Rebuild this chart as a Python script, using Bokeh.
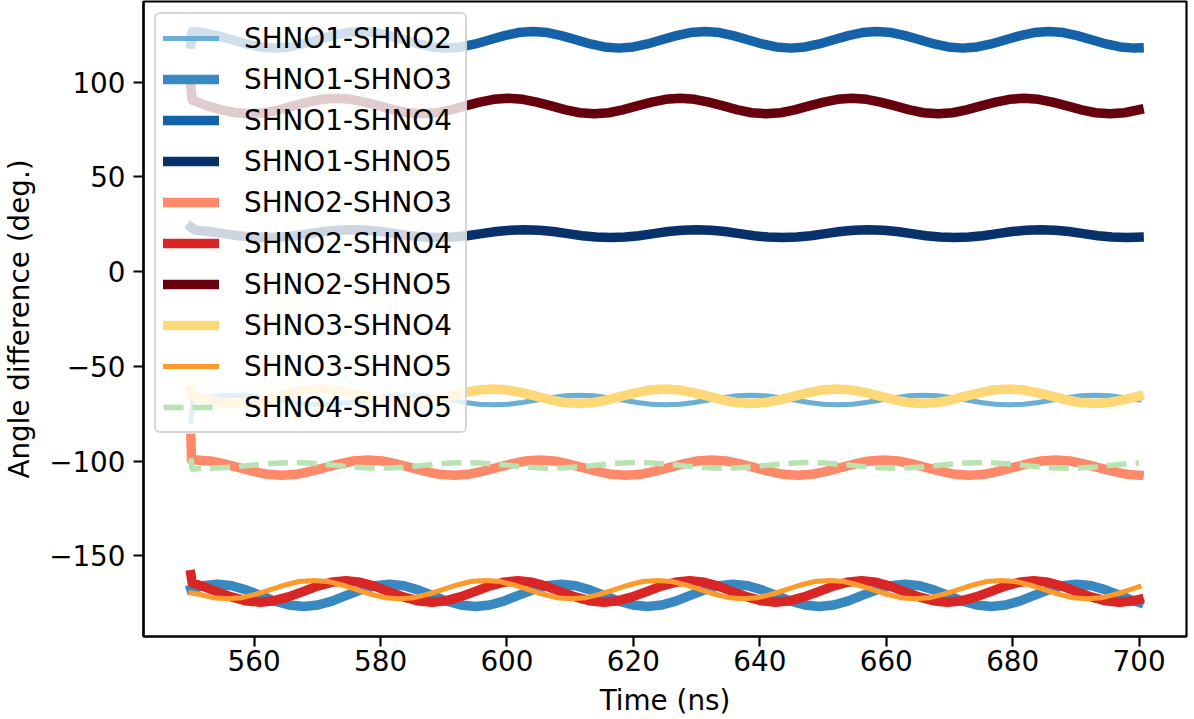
from bokeh.plotting import figure
from bokeh.models import Range1d, FixedTicker, Legend, LegendItem
from bokeh.embed import file_html
from bokeh.resources import INLINE

# ---------------- data ----------------
pair_names = ["SHNO1-SHNO2", "SHNO1-SHNO3", "SHNO1-SHNO4", "SHNO1-SHNO5",
              "SHNO2-SHNO3", "SHNO2-SHNO4", "SHNO2-SHNO5", "SHNO3-SHNO4",
              "SHNO3-SHNO5", "SHNO4-SHNO5"]

x_ticks = [560, 580, 600, 620, 640, 660, 680, 700]
y_ticks = [-150, -100, -50, 0, 50, 100]
y_tick_labels = ["\u2212150", "\u2212100", "\u221250", "0", "50", "100"]

time_12 = [550.0, 550.3, 552.6, 554.8,
    557.1, 559.4, 561.6, 563.9, 566.2, 568.4, 570.7, 573.0, 575.2, 577.5, 579.8, 582.0,
    584.3, 586.6, 588.8, 591.1, 593.4, 595.6, 597.9, 600.2, 602.4, 604.7, 607.0, 609.2,
    611.5, 613.8, 616.0, 618.3, 620.6, 622.8, 625.1, 627.4, 629.6, 631.9, 634.2, 636.4,
    638.7, 641.0, 643.2, 645.5, 647.8, 650.0, 652.3, 654.6, 656.8, 659.1, 661.4, 663.6,
    665.9, 668.2, 670.4, 672.7, 675.0, 677.2, 679.5, 681.8, 684.0, 686.3, 688.6, 690.8,
    693.1, 695.4, 697.6, 700.0]
angle_12 = [-79.0, -67.8, -66.6, -65.6,
    -65.3, -65.6, -66.6, -67.8, -69.1, -70.0, -70.3, -70.0, -69.1, -67.8, -66.6, -65.6,
    -65.3, -65.6, -66.6, -67.8, -69.1, -70.0, -70.3, -70.0, -69.1, -67.8, -66.6, -65.6,
    -65.3, -65.6, -66.6, -67.8, -69.1, -70.0, -70.3, -70.0, -69.1, -67.8, -66.6, -65.6,
    -65.3, -65.6, -66.6, -67.8, -69.1, -70.0, -70.3, -70.0, -69.1, -67.8, -66.6, -65.6,
    -65.3, -65.6, -66.6, -67.8, -69.1, -70.0, -70.3, -70.0, -69.1, -67.8, -66.6, -65.6,
    -65.3, -65.6, -66.6, -67.8]

time_13 = [550.0, 551.9,
    554.2, 556.5, 558.7, 561.0, 563.3, 565.5, 567.8, 570.1, 572.3, 574.6, 576.9, 579.1,
    581.4, 583.7, 585.9, 588.2, 590.5, 592.7, 595.0, 597.3, 599.5, 601.8, 604.1, 606.3,
    608.6, 610.9, 613.1, 615.4, 617.7, 619.9, 622.2, 624.5, 626.7, 629.0, 631.3, 633.5,
    635.8, 638.1, 640.3, 642.6, 644.9, 647.1, 649.4, 651.7, 653.9, 656.2, 658.5, 660.7,
    663.0, 665.3, 667.5, 669.8, 672.1, 674.3, 676.6, 678.9, 681.1, 683.4, 685.7, 687.9,
    690.2, 692.5, 694.7, 697.0, 699.3, 700.0]
angle_13 = [-167.7, -165.8,
    -165.0, -165.8, -168.0, -170.9, -173.9, -176.0, -176.8, -176.0, -173.9, -170.9, -168.0, -165.8,
    -165.0, -165.8, -168.0, -170.9, -173.9, -176.0, -176.8, -176.0, -173.9, -170.9, -168.0, -165.8,
    -165.0, -165.8, -168.0, -170.9, -173.9, -176.0, -176.8, -176.0, -173.9, -170.9, -168.0, -165.8,
    -165.0, -165.8, -168.0, -170.9, -173.9, -176.0, -176.8, -176.0, -173.9, -170.9, -168.0, -165.8,
    -165.0, -165.8, -168.0, -170.9, -173.9, -176.0, -176.8, -176.0, -173.9, -170.9, -168.0, -165.8,
    -165.0, -165.8, -168.0, -170.9, -173.9, -174.7]

time_14 = [550.0, 550.2,
    552.0, 554.2, 556.5, 558.8, 561.0, 563.3, 565.6, 567.8, 570.1, 572.4, 574.6,
    576.9, 579.2, 581.4, 583.7, 586.0, 588.2, 590.5, 592.8, 595.0, 597.3, 599.6, 601.8,
    604.1, 606.4, 608.6, 610.9, 613.2, 615.4, 617.7, 620.0, 622.2, 624.5, 626.8, 629.0,
    631.3, 633.6, 635.8, 638.1, 640.4, 642.6, 644.9, 647.2, 649.4, 651.7, 654.0, 656.2,
    658.5, 660.8, 663.0, 665.3, 667.6, 669.8, 672.1, 674.4, 676.6, 678.9, 681.2, 683.4,
    685.7, 688.0, 690.2, 692.5, 694.8, 697.0, 699.3, 700.0]
angle_14 = [120.0, 126.7,
    126.1, 124.5, 122.3, 120.1, 118.5, 117.9, 118.5, 120.1, 122.3, 124.5, 126.1,
    126.7, 126.1, 124.5, 122.3, 120.1, 118.5, 117.9, 118.5, 120.1, 122.3, 124.5, 126.1,
    126.7, 126.1, 124.5, 122.3, 120.1, 118.5, 117.9, 118.5, 120.1, 122.3, 124.5, 126.1,
    126.7, 126.1, 124.5, 122.3, 120.1, 118.5, 117.9, 118.5, 120.1, 122.3, 124.5, 126.1,
    126.7, 126.1, 124.5, 122.3, 120.1, 118.5, 117.9, 118.5, 120.1, 122.3, 124.5, 126.1,
    126.7, 126.1, 124.5, 122.3, 120.1, 118.5, 117.9, 118.0]

time_15 = [550.0,
    550.7, 552.9, 555.2, 557.5, 559.7, 562.0, 564.3, 566.5, 568.8, 571.1, 573.3,
    575.6, 577.9, 580.1, 582.4, 584.7, 586.9, 589.2, 591.5, 593.7, 596.0, 598.3, 600.5,
    602.8, 605.1, 607.3, 609.6, 611.9, 614.1, 616.4, 618.7, 620.9, 623.2, 625.5, 627.7,
    630.0, 632.3, 634.5, 636.8, 639.1, 641.3, 643.6, 645.9, 648.1, 650.4, 652.7, 654.9,
    657.2, 659.5, 661.7, 664.0, 666.3, 668.5, 670.8, 673.1, 675.3, 677.6, 679.9, 682.1,
    684.4, 686.7, 688.9, 691.2, 693.5, 695.7, 698.0, 700.0]
angle_15 = [23.5,
    21.8, 21.1, 20.0, 18.9, 18.2, 17.9, 18.2, 18.9, 20.0, 21.1, 21.8,
    22.1, 21.8, 21.1, 20.0, 18.9, 18.2, 17.9, 18.2, 18.9, 20.0, 21.1, 21.8,
    22.1, 21.8, 21.1, 20.0, 18.9, 18.2, 17.9, 18.2, 18.9, 20.0, 21.1, 21.8,
    22.1, 21.8, 21.1, 20.0, 18.9, 18.2, 17.9, 18.2, 18.9, 20.0, 21.1, 21.8,
    22.1, 21.8, 21.1, 20.0, 18.9, 18.2, 17.9, 18.2, 18.9, 20.0, 21.1, 21.8,
    22.1, 21.8, 21.1, 20.0, 18.9, 18.2, 17.9, 18.1]

time_23 = [550.0, 550.1,
    550.8, 553.1, 555.3, 557.6, 559.9, 562.1, 564.4, 566.7, 568.9, 571.2, 573.5, 575.7,
    578.0, 580.3, 582.5, 584.8, 587.1, 589.3, 591.6, 593.9, 596.1, 598.4, 600.7, 602.9,
    605.2, 607.5, 609.7, 612.0, 614.3, 616.5, 618.8, 621.1, 623.3, 625.6, 627.9, 630.1,
    632.4, 634.7, 636.9, 639.2, 641.5, 643.7, 646.0, 648.3, 650.5, 652.8, 655.1, 657.3,
    659.6, 661.9, 664.1, 666.4, 668.7, 670.9, 673.2, 675.5, 677.7, 680.0, 682.3, 684.5,
    686.8, 689.1, 691.3, 693.6, 695.9, 698.1, 700.0]
angle_23 = [-88.0, -99.4,
    -99.5, -100.0, -101.5, -103.5, -105.5, -107.0, -107.5, -107.0, -105.5, -103.5, -101.5, -100.0,
    -99.5, -100.0, -101.5, -103.5, -105.5, -107.0, -107.5, -107.0, -105.5, -103.5, -101.5, -100.0,
    -99.5, -100.0, -101.5, -103.5, -105.5, -107.0, -107.5, -107.0, -105.5, -103.5, -101.5, -100.0,
    -99.5, -100.0, -101.5, -103.5, -105.5, -107.0, -107.5, -107.0, -105.5, -103.5, -101.5, -100.0,
    -99.5, -100.0, -101.5, -103.5, -105.5, -107.0, -107.5, -107.0, -105.5, -103.5, -101.5, -100.0,
    -99.5, -100.0, -101.5, -103.5, -105.5, -107.0, -107.5]

time_24 = [550.0, 550.2,
    551.8, 554.1, 556.4, 558.6, 560.9, 563.2, 565.4, 567.7, 570.0, 572.2,
    574.5, 576.8, 579.0, 581.3, 583.6, 585.8, 588.1, 590.4, 592.6, 594.9, 597.2, 599.4,
    601.7, 604.0, 606.2, 608.5, 610.8, 613.0, 615.3, 617.6, 619.8, 622.1, 624.4, 626.6,
    628.9, 631.2, 633.4, 635.7, 638.0, 640.2, 642.5, 644.8, 647.0, 649.3, 651.6, 653.8,
    656.1, 658.4, 660.6, 662.9, 665.2, 667.4, 669.7, 672.0, 674.2, 676.5, 678.8, 681.0,
    683.3, 685.6, 687.8, 690.1, 692.4, 694.6, 696.9, 699.2, 700.0]
angle_24 = [-160.0, -164.4,
    -166.0, -168.9, -171.7, -173.7, -174.5, -173.7, -171.7, -168.9, -166.0, -164.0,
    -163.2, -164.0, -166.0, -168.9, -171.7, -173.7, -174.5, -173.7, -171.7, -168.9, -166.0, -164.0,
    -163.2, -164.0, -166.0, -168.9, -171.7, -173.7, -174.5, -173.7, -171.7, -168.9, -166.0, -164.0,
    -163.2, -164.0, -166.0, -168.9, -171.7, -173.7, -174.5, -173.7, -171.7, -168.9, -166.0, -164.0,
    -163.2, -164.0, -166.0, -168.9, -171.7, -173.7, -174.5, -173.7, -171.7, -168.9, -166.0, -164.0,
    -163.2, -164.0, -166.0, -168.9, -171.7, -173.7, -174.5, -173.7, -173.1]

time_25 = [550.0, 550.2,
    552.6, 554.9, 557.1, 559.4, 561.7, 563.9, 566.2, 568.5, 570.7,
    573.0, 575.3, 577.5, 579.8, 582.1, 584.3, 586.6, 588.9, 591.1, 593.4, 595.7, 597.9,
    600.2, 602.5, 604.7, 607.0, 609.3, 611.5, 613.8, 616.1, 618.3, 620.6, 622.9, 625.1,
    627.4, 629.7, 631.9, 634.2, 636.5, 638.7, 641.0, 643.3, 645.5, 647.8, 650.1, 652.3,
    654.6, 656.9, 659.1, 661.4, 663.7, 665.9, 668.2, 670.5, 672.7, 675.0, 677.3, 679.5,
    681.8, 684.1, 686.3, 688.6, 690.9, 693.1, 695.4, 697.7, 700.0]
angle_25 = [97.5, 90.5,
    87.4, 85.3, 83.8, 83.3, 83.8, 85.3, 87.4, 89.4, 90.9,
    91.4, 90.9, 89.4, 87.4, 85.3, 83.8, 83.3, 83.8, 85.3, 87.4, 89.4, 90.9,
    91.4, 90.9, 89.4, 87.4, 85.3, 83.8, 83.3, 83.8, 85.3, 87.4, 89.4, 90.9,
    91.4, 90.9, 89.4, 87.4, 85.3, 83.8, 83.3, 83.8, 85.3, 87.4, 89.4, 90.9,
    91.4, 90.9, 89.4, 87.4, 85.3, 83.8, 83.3, 83.8, 85.3, 87.4, 89.4, 90.9,
    91.4, 90.9, 89.4, 87.4, 85.3, 83.8, 83.3, 83.8, 85.4]

time_34 = [550.0,
    550.2, 552.5, 554.7, 557.0, 559.3, 561.5, 563.8, 566.1, 568.3,
    570.6, 572.9, 575.1, 577.4, 579.7, 581.9, 584.2, 586.5, 588.7, 591.0, 593.3, 595.5,
    597.8, 600.1, 602.3, 604.6, 606.9, 609.1, 611.4, 613.7, 615.9, 618.2, 620.5, 622.7,
    625.0, 627.3, 629.5, 631.8, 634.1, 636.3, 638.6, 640.9, 643.1, 645.4, 647.7, 649.9,
    652.2, 654.5, 656.7, 659.0, 661.3, 663.5, 665.8, 668.1, 670.3, 672.6, 674.9, 677.1,
    679.4, 681.7, 683.9, 686.2, 688.5, 690.7, 693.0, 695.3, 697.5, 700.0]
angle_34 = [-62.5,
    -65.8, -67.7, -69.1, -69.6, -69.1, -67.7, -65.8, -63.9, -62.5,
    -62.0, -62.5, -63.9, -65.8, -67.7, -69.1, -69.6, -69.1, -67.7, -65.8, -63.9, -62.5,
    -62.0, -62.5, -63.9, -65.8, -67.7, -69.1, -69.6, -69.1, -67.7, -65.8, -63.9, -62.5,
    -62.0, -62.5, -63.9, -65.8, -67.7, -69.1, -69.6, -69.1, -67.7, -65.8, -63.9, -62.5,
    -62.0, -62.5, -63.9, -65.8, -67.7, -69.1, -69.6, -69.1, -67.7, -65.8, -63.9, -62.5,
    -62.0, -62.5, -63.9, -65.8, -67.7, -69.1, -69.6, -69.1, -67.7, -65.7]

time_35 = [550.0,
    551.3, 553.5, 555.8, 558.1, 560.3, 562.6, 564.9, 567.1,
    569.4, 571.7, 573.9, 576.2, 578.5, 580.7, 583.0, 585.3, 587.5, 589.8, 592.1, 594.3,
    596.6, 598.9, 601.1, 603.4, 605.7, 607.9, 610.2, 612.5, 614.7, 617.0, 619.3, 621.5,
    623.8, 626.1, 628.3, 630.6, 632.9, 635.1, 637.4, 639.7, 641.9, 644.2, 646.5, 648.7,
    651.0, 653.3, 655.5, 657.8, 660.1, 662.3, 664.6, 666.9, 669.1, 671.4, 673.7, 675.9,
    678.2, 680.5, 682.7, 685.0, 687.3, 689.5, 691.8, 694.1, 696.3, 698.6, 700.0]
angle_35 = [-169.6,
    -170.3, -172.1, -172.7, -172.1, -170.3, -167.9, -165.4, -163.6,
    -163.0, -163.6, -165.4, -167.9, -170.3, -172.1, -172.7, -172.1, -170.3, -167.9, -165.4, -163.6,
    -163.0, -163.6, -165.4, -167.9, -170.3, -172.1, -172.7, -172.1, -170.3, -167.9, -165.4, -163.6,
    -163.0, -163.6, -165.4, -167.9, -170.3, -172.1, -172.7, -172.1, -170.3, -167.9, -165.4, -163.6,
    -163.0, -163.6, -165.4, -167.9, -170.3, -172.1, -172.7, -172.1, -170.3, -167.9, -165.4, -163.6,
    -163.0, -163.6, -165.4, -167.9, -170.3, -172.1, -172.7, -172.1, -170.3, -167.9, -166.3]

time_45 = [550.0, 550.2,
    552.6, 554.9, 557.1, 559.4, 561.7, 563.9,
    566.2, 568.5, 570.7, 573.0, 575.3, 577.5, 579.8, 582.1, 584.3, 586.6, 588.9, 591.1,
    593.4, 595.7, 597.9, 600.2, 602.5, 604.7, 607.0, 609.3, 611.5, 613.8, 616.1, 618.3,
    620.6, 622.9, 625.1, 627.4, 629.7, 631.9, 634.2, 636.5, 638.7, 641.0, 643.3, 645.5,
    647.8, 650.1, 652.3, 654.6, 656.9, 659.1, 661.4, 663.7, 665.9, 668.2, 670.5, 672.7,
    675.0, 677.3, 679.5, 681.8, 684.1, 686.3, 688.6, 690.9, 693.1, 695.4, 697.7, 700.0]
angle_45 = [-98.5, -104.3,
    -103.8, -103.6, -103.1, -102.3, -101.6, -101.0,
    -100.8, -101.0, -101.6, -102.3, -103.1, -103.6, -103.8, -103.6, -103.1, -102.3, -101.6, -101.0,
    -100.8, -101.0, -101.6, -102.3, -103.1, -103.6, -103.8, -103.6, -103.1, -102.3, -101.6, -101.0,
    -100.8, -101.0, -101.6, -102.3, -103.1, -103.6, -103.8, -103.6, -103.1, -102.3, -101.6, -101.0,
    -100.8, -101.0, -101.6, -102.3, -103.1, -103.6, -103.8, -103.6, -103.1, -102.3, -101.6, -101.0,
    -100.8, -101.0, -101.6, -102.3, -103.1, -103.6, -103.8, -103.6, -103.1, -102.3, -101.6, -101.0]

times = [time_12, time_13, time_14, time_15, time_23, time_24, time_25, time_34, time_35, time_45]
angles = [angle_12, angle_13, angle_14, angle_15, angle_23, angle_24, angle_25, angle_34, angle_35, angle_45]

# ---------------- styles ----------------
colors = ["#6baed6", "#3888c1", "#1562a9", "#08306b", "#fc8a6a",
          "#d92624", "#67000d", "#fed877", "#fd9a2c", "#b8e3b2"]
widths = [5, 9.5, 9.5, 9.5, 9.5, 9.5, 9.5, 9.5, 5, 5.5]
dashes = ["solid"] * 9 + ["20 9"]

FONT = "DejaVu Sans"
FS = "27.8px"

p = figure(width=1194, height=719,
           x_range=Range1d(542.5, 707.5), y_range=Range1d(-192.6, 142.5),
           output_backend="svg", toolbar_location=None,
           min_border_left=140, min_border_right=8,
           min_border_top=1, min_border_bottom=83)
p.background_fill_color = "white"
p.border_fill_color = "white"
p.outline_line_color = "black"
p.outline_line_width = 2.2
p.outline_line_alpha = 1.0
p.xgrid.visible = False
p.ygrid.visible = False

p.xaxis.ticker = FixedTicker(ticks=x_ticks)
p.yaxis.ticker = FixedTicker(ticks=y_ticks)
p.yaxis.major_label_overrides = {t: s for t, s in zip(y_ticks, y_tick_labels)}

for ax in (p.xaxis[0], p.yaxis[0]):
    ax.axis_line_width = 2.2
    ax.axis_line_color = "black"
    ax.major_tick_line_width = 2.2
    ax.major_tick_line_color = "black"
    ax.major_tick_out = 10
    ax.major_tick_in = 0
    ax.minor_tick_out = 0
    ax.minor_tick_in = 0
    ax.major_label_text_font = FONT
    ax.major_label_text_font_size = FS
    ax.major_label_text_color = "black"
    ax.axis_label_text_font = FONT
    ax.axis_label_text_font_size = FS
    ax.axis_label_text_font_style = "normal"
    ax.axis_label_text_color = "black"

p.xaxis.axis_label = "Time (ns)"
p.yaxis.axis_label = "Angle difference (deg.)"
p.xaxis.major_label_standoff = 3
p.yaxis.major_label_standoff = 8
p.xaxis.axis_label_standoff = 10
p.yaxis.axis_label_standoff = 10

items = []
for name, t, v, c, w, d in zip(pair_names, times, angles, colors, widths, dashes):
    r = p.line(t, v, line_color=c, line_width=w, line_dash=d,
               line_join="round", line_cap=("square" if d == "solid" else "butt"))
    items.append(LegendItem(label=name, renderers=[r]))

legend = Legend(items=items, location=(11, 203))
legend.label_text_font = FONT
legend.label_text_font_size = FS
legend.label_text_color = "black"
legend.glyph_width = 56
legend.glyph_height = 34
legend.label_height = 34
legend.label_width = 214
legend.label_standoff = 25
legend.spacing = 7
legend.padding = 7
legend.margin = 0
legend.border_line_color = "#cccccc"
legend.border_line_width = 2.5
legend.border_line_alpha = 0.8
legend.background_fill_color = "white"
legend.background_fill_alpha = 0.8
if "border_radius" in Legend.properties():
    legend.border_radius = 6
p.add_layout(legend)

open("out.html", "w").write(file_html(p, INLINE))
